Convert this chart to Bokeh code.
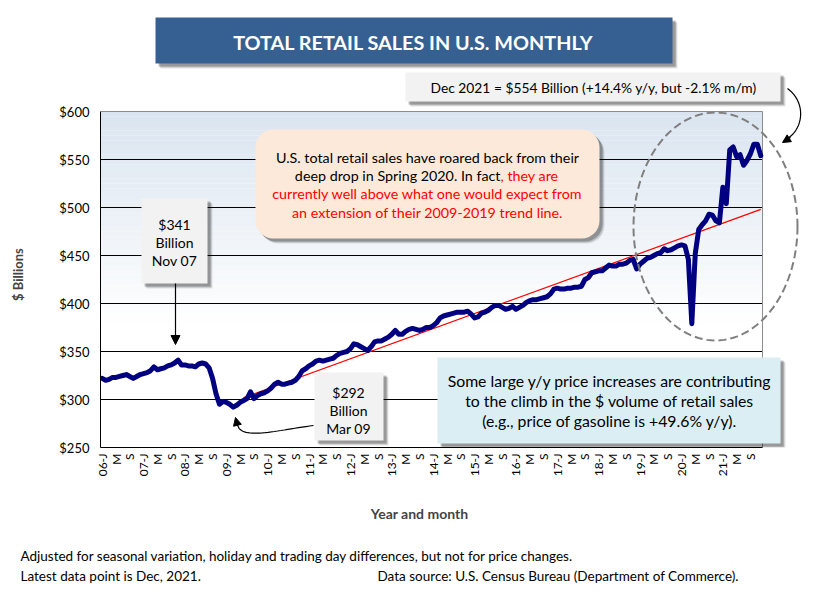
import math
from bokeh.plotting import figure
from bokeh.models import (Range1d, FixedTicker, NumeralTickFormatter, Label, BoxAnnotation,
                          Arrow, NormalHead, PolyAnnotation)
from bokeh.embed import file_html
from bokeh.resources import INLINE

# ---------------- data (US total retail sales, $ billions, monthly, Jan 2006 - Dec 2021) -------------
s2006 = [322, 320, 321, 323, 323, 324, 325, 326, 324, 322, 324, 326]
s2007 = [327, 328, 330, 334, 331, 332, 333, 335, 336, 338, 341, 336]
s2008 = [336, 335, 335, 334, 337, 338, 337, 333, 322, 306, 295, 298]
s2009 = [297, 295, 292, 294, 297, 299, 301, 308, 301, 304, 306, 307]
s2010 = [309, 312, 316, 318, 316, 316, 317, 318, 320, 324, 330, 332]
s2011 = [335, 337, 340, 341, 340, 341, 342, 343, 346, 348, 349, 350]
s2012 = [353, 358, 357, 355, 353, 351, 355, 360, 361, 361, 363, 365]
s2013 = [368, 372, 368, 368, 371, 373, 374, 373, 372, 373, 375, 375]
s2014 = [377, 380, 385, 387, 388, 389, 390, 391, 391, 391, 392, 389]
s2015 = [385, 386, 390, 391, 393, 396, 398, 398, 396, 394, 395, 397]
s2016 = [394, 396, 398, 401, 403, 404, 404, 405, 406, 407, 410, 415]
s2017 = [416, 415, 415, 416, 416, 417, 417, 418, 425, 427, 432, 433]
s2018 = [434, 434, 437, 440, 439, 439, 441, 441, 442, 445, 446, 436]
s2019 = [441, 444, 447, 448, 450, 452, 453, 457, 455, 456, 458, 460]
s2020 = [461, 460, 446, 379, 452, 477, 482, 486, 493, 492, 486, 484]
s2021 = [521, 504, 560, 563, 553, 555, 544, 549, 556, 566, 566, 554]

sales = (s2006 + s2007 + s2008 + s2009 + s2010 + s2011 + s2012 + s2013 +
         s2014 + s2015 + s2016 + s2017 + s2018 + s2019 + s2020 + s2021)
months = list(range(len(sales)))          # 0 = Jan 2006

# 2009-2019 trend line, extended to Dec 2021 (end points)
trend_months = [41, 191]
trend_values = [302, 498]

year_labels = ["06", "07", "08", "09", "10", "11", "12", "13",
               "14", "15", "16", "17", "18", "19", "20", "21"]
month_letters = ["J", "M", "S"]
y_ticks = [250, 300, 350, 400, 450, 500, 550, 600]
y_min, y_max = 250, 600

tick_pos, tick_txt = [], []
for k, yy in enumerate(year_labels):
    for j, m in enumerate(month_letters):
        tick_pos.append(k * 12 + j * 4)
        tick_txt.append(f"{yy}-{m}" if j == 0 else m)

# ---------------- layout constants (canvas pixels) ----------------
W, H = 813, 602
MAIN_H = 530
FL, FT, FR, FB = 100, 111, 762, 447       # visible plot box
FONT = "Lato"
NB = "\u00a0"

x_lo, x_hi = -0.5, len(sales) - 0.5
px_per_x = (FR - FL) / (x_hi - x_lo)
px_per_y = (FB - FT) / (y_max - y_min)
# the frame spans to the canvas' top/right edge so that call-outs are not clipped
x_end = x_lo + (W - FL) / px_per_x
y_end = y_min + FB / px_per_y

def sx(cx):
    return cx - FL

def sy(cy):
    return FB - cy

p = figure(width=W, height=MAIN_H, output_backend="svg", toolbar_location=None,
           x_range=Range1d(x_lo, x_end), y_range=Range1d(y_min, y_end),
           min_border_left=FL, min_border_right=0, min_border_top=0,
           min_border_bottom=MAIN_H - FB)
p.background_fill_color = "white"
p.border_fill_color = "white"
p.outline_line_color = None

# gradient background of plot area (light blue at top to white)
top_rgb = (218, 228, 240)
step = 5
for b in range(y_min, y_max, step):
    mid = b + step / 2
    t = max(0.0, min(1.0, (mid - 375) / (y_max - 375)))
    r = round(255 + (top_rgb[0] - 255) * t)
    g = round(255 + (top_rgb[1] - 255) * t)
    bl = round(255 + (top_rgb[2] - 255) * t)
    p.quad(left=x_lo, right=x_hi, bottom=b, top=b + step,
           fill_color=f"#{r:02x}{g:02x}{bl:02x}", line_color=None, level="image")

# horizontal grid lines and plot-box border
p.segment(x0=[x_lo] * (len(y_ticks) - 2), x1=[x_hi] * (len(y_ticks) - 2),
          y0=y_ticks[1:-1], y1=y_ticks[1:-1], line_color="black", line_width=1, level="underlay")
p.segment(x0=[x_lo, x_hi], x1=[x_hi, x_hi], y0=[y_max, y_min], y1=[y_max, y_max],
          line_color="#8c8c8c", line_width=1, level="underlay")

# axes
p.xaxis.bounds = (x_lo, x_hi)
p.xaxis.ticker = FixedTicker(ticks=tick_pos)
p.xaxis.major_label_overrides = {pos: txt for pos, txt in zip(tick_pos, tick_txt)}
p.xaxis.major_label_orientation = math.pi / 2
p.xaxis.major_tick_line_color = None
p.xaxis.minor_tick_line_color = None
p.xaxis.major_tick_out = 0
p.xaxis.major_label_standoff = 6
p.xaxis.major_label_text_font = FONT
p.xaxis.major_label_text_font_size = "12px"
p.xaxis.major_label_text_color = "black"
p.xaxis.axis_line_color = "black"
# padding keeps the title centred under the plot box rather than the wider frame
p.xaxis.axis_label = "Year and month" + NB * 22
p.xaxis.axis_label_text_font = FONT
p.xaxis.axis_label_text_font_style = "bold"
p.xaxis.axis_label_text_font_size = "14px"
p.xaxis.axis_label_standoff = 26

p.yaxis.bounds = (y_min, y_max)
p.yaxis.ticker = FixedTicker(ticks=y_ticks)
p.yaxis.formatter = NumeralTickFormatter(format="$0")
p.yaxis.major_tick_line_color = None
p.yaxis.minor_tick_line_color = None
p.yaxis.major_tick_out = 0
p.yaxis.major_label_standoff = 11
p.yaxis.major_label_text_font = FONT
p.yaxis.major_label_text_font_size = "13px"
p.yaxis.major_label_text_color = "black"
p.yaxis.axis_line_color = "black"
p.yaxis.axis_label = "$ Billions" + NB * 32
p.yaxis.axis_label_text_font = FONT
p.yaxis.axis_label_text_font_style = "bold"
p.yaxis.axis_label_text_font_size = "13px"
p.yaxis.axis_label_standoff = 30

p.xgrid.grid_line_color = None
p.ygrid.grid_line_color = None

# data line + trend
p.line(trend_months, trend_values, line_color="#ff0000", line_width=1.2)
p.line(months, sales, line_color="#000080", line_width=5, line_join="round", line_cap="round")

# ---------------- annotations ----------------
def box(fig, x0, y0, x1, y1, fill, radius=0, shadow=True, line=None, fb=FB, fl=FL):
    def bx(v): return v - fl
    def by(v): return fb - v
    if shadow:
        for off, a in ((5, 0.10), (4, 0.15), (3, 0.22)):
            fig.add_layout(BoxAnnotation(left=bx(x0 + off), right=bx(x1 + off),
                                         top=by(y0 + off), bottom=by(y1 + off),
                                         left_units="screen", right_units="screen",
                                         top_units="screen", bottom_units="screen",
                                         fill_color="black", fill_alpha=a, line_color=None,
                                         border_radius=radius))
    fig.add_layout(BoxAnnotation(left=bx(x0), right=bx(x1), top=by(y0), bottom=by(y1),
                                 left_units="screen", right_units="screen",
                                 top_units="screen", bottom_units="screen",
                                 fill_color=fill, fill_alpha=1.0, line_color=line,
                                 border_radius=radius))

def text(fig, cx, cy, s, size="13px", color="black", align="center", style="normal",
         font=FONT, fb=FB, fl=FL):
    fig.add_layout(Label(x=cx - fl, y=fb - cy, x_units="screen", y_units="screen", text=s,
                         text_align=align, text_baseline="middle", text_font=font,
                         text_font_size=size, text_color=color, text_font_style=style))

def polyline(pts, color="black", width=1.2, dash="solid", alpha=1.0):
    xs = [sx(a) for a, b in pts]
    ys = [sy(b) for a, b in pts]
    p.add_layout(PolyAnnotation(xs=xs + xs[::-1], ys=ys + ys[::-1],
                                xs_units="screen", ys_units="screen",
                                fill_alpha=0, line_color=color, line_width=width,
                                line_alpha=alpha, line_dash=dash))

def bezier(p0, p1, p2, p3, n=30):
    pts = []
    for i in range(n + 1):
        t = i / n
        a = (1 - t) ** 3
        b = 3 * (1 - t) ** 2 * t
        c = 3 * (1 - t) * t ** 2
        d = t ** 3
        pts.append((a * p0[0] + b * p1[0] + c * p2[0] + d * p3[0],
                    a * p0[1] + b * p1[1] + c * p2[1] + d * p3[1]))
    return pts

def arrow(x0, y0, x1, y1, size=9):
    p.add_layout(Arrow(x_start=sx(x0), y_start=sy(y0), x_end=sx(x1), y_end=sy(y1),
                       start_units="screen", end_units="screen",
                       end=NormalHead(size=size, fill_color="black", line_color="black"),
                       line_color="black", line_width=1.2))

# title banner
box(p, 155, 17, 672, 63, "#376092")
text(p, 413, 41, "TOTAL RETAIL SALES IN U.S. MONTHLY", size="19.8px", color="white", style="bold")

# latest value box
box(p, 405, 72, 780, 101, "#f2f2f2")
text(p, 593, 87, "Dec 2021 = $554 Billion (+14.4% y/y, but -2.1% m/m)", size="13.8px")

# peach commentary box
box(p, 255, 129, 599, 238, "#fde9d9", radius=18)
text(p, 427, 157, "U.S. total retail sales have roared back from their", size="14.3px")
text(p, 500, 175, "deep drop in Spring 2020. In fact", size="14.3px", align="right")
text(p, 500, 175, ", they are", size="14.3px", color="#ff0000", align="left")
text(p, 427, 193, "currently well above what one would expect from", size="14.3px", color="#ff0000")
text(p, 427, 212, "an extension of their 2009-2019 trend line.", size="14.3px", color="#ff0000")

# peak label box
box(p, 141, 198, 207, 283, "#f2f2f2")
text(p, 174, 224, "$341", size="14px")
text(p, 174, 242, "Billion", size="14px")
text(p, 174, 260, "Nov 07", size="14px")
arrow(175, 283, 175, 344)

# trough label box
box(p, 314, 372, 383, 440, "#f2f2f2")
text(p, 348, 392, "$292", size="14px")
text(p, 348, 410, "Billion", size="14px")
text(p, 348, 428, "Mar 09", size="14px")
polyline(bezier((313, 425), (275, 430), (240, 440), (237, 424)))
arrow(237, 425, 235, 417, size=8)

# blue box
box(p, 437, 357, 780, 443, "#dbeef4")
text(p, 609, 380, "Some large y/y price increases are contributing", size="15.8px")
text(p, 609, 400, "to the climb in the $ volume of retail sales", size="15.8px")
text(p, 609, 420, "(e.g., price of gasoline is +49.6% y/y).", size="15.8px")

# dashed ellipse around the pandemic period
cx_e, cy_e, ax_e, by_e = 715, 226, 82, 114
ell = [(cx_e + ax_e * math.cos(2 * math.pi * k / 120), cy_e + by_e * math.sin(2 * math.pi * k / 120))
       for k in range(121)]
p.add_layout(PolyAnnotation(xs=[sx(a) for a, b in ell], ys=[sy(b) for a, b in ell],
                            xs_units="screen", ys_units="screen", fill_alpha=0,
                            line_color="#7f7f7f", line_alpha=1.0, line_width=2, line_dash="8 4"))

# curved arrow from the latest-value box
polyline(bezier((787, 88), (806, 102), (803, 128), (787, 138)))
arrow(790, 137, 782, 142, size=8)

# ---------------- footnote strip (separate root, placed directly below) ----------------
FOOT_H = H - MAIN_H
foot = figure(width=W, height=FOOT_H, output_backend="svg", toolbar_location=None,
              x_axis_type=None, y_axis_type=None, min_border=0,
              x_range=Range1d(0, 1), y_range=Range1d(0, 1))
foot.outline_line_color = None
foot.xgrid.visible = False
foot.ygrid.visible = False
foot.background_fill_color = "white"
foot.border_fill_color = "white"
FOOT = "Lato"
FS = "13.5px"
text(foot, 20, 555, "Adjusted for seasonal variation, holiday and trading day differences, but not for price changes.",
     size=FS, align="left", font=FOOT, fb=H, fl=0)
text(foot, 20, 575, "Latest data point is Dec, 2021.", size=FS, align="left", font=FOOT, fb=H, fl=0)
text(foot, 377, 575, "Data source: U.S. Census Bureau (Department of Commerce).", size=FS,
     align="left", font=FOOT, fb=H, fl=0)

open("out.html", "w").write(file_html([p, foot], INLINE))
